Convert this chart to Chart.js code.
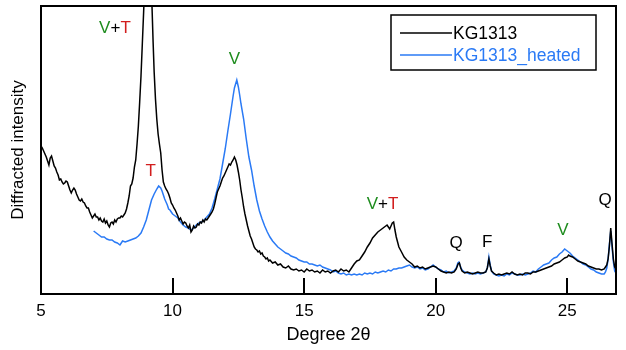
<!DOCTYPE html>
<html>
<head>
<meta charset="utf-8">
<script src="https://cdn.jsdelivr.net/npm/chart.js@4"></script>
<style>
  html, body { margin: 0; padding: 0; background: #fff; }
  #wrap { width: 626px; height: 350px; }
</style>
</head>
<body>
<div id="wrap"><canvas id="chart" width="626" height="350"></canvas></div>
<script>
/* ─── DATA ───────────────────────────────────────────── */
const xTicks = [5, 10, 15, 20, 25];

const degKG = [
  5.00, 5.05, 5.10, 5.15, 5.20, 5.25, 5.30, 5.35, 5.40, 5.45, 5.50, 5.55, 5.60, 5.65, 5.70, 5.75, 5.80, 5.85, 5.90, 5.95,
  6.00, 6.05, 6.10, 6.15, 6.20, 6.25, 6.30, 6.35, 6.40, 6.45, 6.50, 6.55, 6.60, 6.65, 6.70, 6.75, 6.80, 6.85, 6.90, 6.95,
  7.00, 7.05, 7.10, 7.15, 7.20, 7.25, 7.30, 7.35, 7.40, 7.45, 7.50, 7.55, 7.60, 7.65, 7.70, 7.75, 7.80, 7.85, 7.90, 7.95,
  8.00, 8.05, 8.10, 8.15, 8.20, 8.25, 8.30, 8.35, 8.40, 8.45, 8.50, 8.55, 8.60, 8.65, 8.70, 8.75, 8.80, 8.85, 8.90, 8.95,
  9.00, 9.06, 9.12, 9.18, 9.22, 9.26, 9.30, 9.35, 9.40, 9.45, 9.50, 9.55, 9.60, 9.65, 9.70, 9.75, 9.80, 9.85, 9.90, 9.95,
  10.00, 10.05, 10.10, 10.15, 10.20, 10.25, 10.30, 10.35, 10.40, 10.45, 10.50, 10.55, 10.60, 10.65, 10.70, 10.75, 10.80, 10.85, 10.90, 10.95,
  11.00, 11.05, 11.10, 11.15, 11.20, 11.25, 11.30, 11.35, 11.40, 11.45, 11.50, 11.55, 11.60, 11.65, 11.70, 11.75, 11.80, 11.85, 11.90, 11.95,
  12.00, 12.05, 12.10, 12.15, 12.20, 12.25, 12.30, 12.35, 12.40, 12.45, 12.50, 12.55, 12.60, 12.65, 12.70, 12.75, 12.80, 12.85, 12.90, 12.95,
  13.00, 13.05, 13.10, 13.15, 13.20, 13.25, 13.30, 13.35, 13.40, 13.45, 13.50, 13.55, 13.60, 13.65, 13.70, 13.80, 13.90, 14.00, 14.10, 14.20,
  14.30, 14.40, 14.50, 14.60, 14.70, 14.80, 14.90, 15.00, 15.10, 15.20, 15.30, 15.40, 15.50, 15.60, 15.70, 15.80, 15.90, 16.00, 16.10, 16.20,
  16.30, 16.40, 16.50, 16.60, 16.70, 16.80, 16.90, 17.00, 17.10, 17.20, 17.30, 17.40, 17.50, 17.60, 17.70, 17.80, 17.90, 18.00, 18.10, 18.15,
  18.20, 18.25, 18.30, 18.35, 18.40, 18.45, 18.50, 18.55, 18.60, 18.70, 18.80, 18.90, 19.00, 19.10, 19.20, 19.30, 19.40, 19.50, 19.60, 19.70,
  19.80, 19.90, 20.00, 20.10, 20.20, 20.30, 20.40, 20.50, 20.60, 20.70, 20.78, 20.85, 20.90, 20.95, 21.00, 21.10, 21.20, 21.30, 21.40, 21.50,
  21.60, 21.70, 21.80, 21.90, 21.96, 22.02, 22.07, 22.12, 22.20, 22.30, 22.40, 22.50, 22.60, 22.70, 22.80, 22.90, 23.00, 23.10, 23.20, 23.30,
  23.40, 23.50, 23.60, 23.70, 23.80, 23.90, 24.00, 24.10, 24.20, 24.30, 24.40, 24.50, 24.60, 24.70, 24.80, 24.90, 25.00, 25.05, 25.10, 25.20,
  25.30, 25.40, 25.50, 25.60, 25.70, 25.80, 25.90, 26.00, 26.10, 26.20, 26.30, 26.40, 26.45, 26.50, 26.55, 26.60, 26.65, 26.70, 26.75, 26.80,
  26.85
];
const intKG = [
  148, 146, 143, 140, 137, 133, 129, 136, 138, 133, 128, 126, 122, 119, 114, 115, 112, 110, 111, 113,
  112, 108, 104, 101, 104, 106, 104, 100, 97, 94, 93, 95, 92, 91, 88, 86, 86, 82, 79, 76,
  78, 80, 77, 77, 74, 76, 73, 72, 75, 71, 73, 69, 67, 71, 72, 70, 74, 72, 75, 76,
  76, 78, 77, 79, 81, 85, 91, 98, 108, 110, 116, 127, 134, 150, 168, 192, 218, 250, 282, 315,
  350, 372, 355, 315, 286, 252, 222, 195, 175, 160, 150, 141, 124, 112, 108, 105, 103, 100, 96, 91,
  89, 86, 84, 81, 78, 74, 76, 73, 70, 72, 71, 68, 66, 69, 62, 64, 68, 66, 67, 70,
  69, 72, 71, 74, 72, 75, 74, 76, 78, 80, 82, 85, 90, 96, 102, 105, 108, 112, 116, 118,
  121, 124, 127, 130, 129, 132, 134, 137, 134, 129, 122, 114, 104, 96, 87, 80, 74, 68, 63, 58,
  55, 51, 47, 45, 44, 42, 43, 40, 41, 38, 37, 35, 36, 33, 34, 31, 32, 29, 30, 27,
  26, 28, 25, 24, 25, 23, 24, 22, 25, 23, 24, 22, 23, 21, 24, 22, 23, 21, 23, 24,
  22, 25, 23, 24, 22, 26, 30, 33, 34, 38, 42, 47, 51, 56, 59, 62, 64, 66, 68, 69,
  67, 65, 68, 71, 72, 64, 57, 52, 47, 42, 37, 34, 32, 30, 27, 28, 26, 27, 25, 26,
  27, 28, 27, 25, 23, 22, 21, 22, 21, 22, 25, 30, 31, 26, 23, 21, 22, 21, 20, 21,
  22, 21, 21, 22, 26, 35, 28, 23, 21, 19, 20, 19, 20, 21, 20, 22, 20, 19, 20, 19,
  21, 21, 20, 22, 22, 23, 24, 25, 26, 27, 28, 30, 31, 32, 34, 36, 37, 39, 38, 37,
  35, 33, 32, 31, 30, 28, 27, 26, 25, 25, 24, 25, 27, 29, 35, 48, 66, 50, 35, 27,
  25
];

const degHeated = [
  7.00, 7.10, 7.20, 7.30, 7.40, 7.50, 7.60, 7.70, 7.80, 7.90, 8.00, 8.05, 8.10, 8.20, 8.30, 8.40, 8.50, 8.60, 8.70, 8.80,
  8.90, 9.00, 9.10, 9.20, 9.30, 9.40, 9.47, 9.55, 9.60, 9.65, 9.70, 9.75, 9.80, 9.85, 9.90, 9.95, 10.00, 10.10, 10.20, 10.30,
  10.40, 10.50, 10.60, 10.70, 10.80, 10.90, 11.00, 11.10, 11.20, 11.30, 11.40, 11.50, 11.60, 11.70, 11.80, 11.90, 12.00, 12.10, 12.20, 12.30,
  12.35, 12.44, 12.50, 12.55, 12.60, 12.70, 12.80, 12.90, 13.00, 13.10, 13.20, 13.30, 13.40, 13.50, 13.60, 13.70, 13.80, 13.90, 14.00, 14.10,
  14.20, 14.30, 14.40, 14.50, 14.60, 14.70, 14.80, 14.90, 15.00, 15.10, 15.20, 15.30, 15.40, 15.50, 15.60, 15.70, 15.80, 15.90, 16.00, 16.10,
  16.20, 16.30, 16.40, 16.50, 16.60, 16.70, 16.80, 16.90, 17.00, 17.10, 17.20, 17.30, 17.40, 17.50, 17.60, 17.70, 17.80, 17.90, 18.00, 18.10,
  18.20, 18.30, 18.40, 18.50, 18.60, 18.70, 18.80, 18.90, 19.00, 19.10, 19.20, 19.30, 19.40, 19.50, 19.60, 19.70, 19.80, 19.90, 20.00, 20.10,
  20.20, 20.30, 20.40, 20.50, 20.60, 20.70, 20.78, 20.84, 20.88, 20.93, 21.00, 21.10, 21.20, 21.30, 21.40, 21.50, 21.60, 21.70, 21.80, 21.90,
  21.96, 22.02, 22.07, 22.12, 22.20, 22.30, 22.40, 22.50, 22.60, 22.70, 22.80, 22.90, 23.00, 23.10, 23.20, 23.30, 23.40, 23.50, 23.60, 23.70,
  23.80, 23.90, 24.00, 24.10, 24.20, 24.30, 24.40, 24.50, 24.60, 24.70, 24.80, 24.90, 24.95, 25.00, 25.05, 25.10, 25.20, 25.30, 25.40, 25.50,
  25.60, 25.70, 25.80, 25.90, 26.00, 26.10, 26.20, 26.30, 26.40, 26.45, 26.50, 26.55, 26.60, 26.65, 26.70, 26.75, 26.80, 26.85
];
const intHeated = [
  63, 61, 59, 57, 57, 55, 54, 54, 52, 51, 49, 51, 53, 52, 53, 54, 55, 56, 58, 61,
  67, 74, 84, 94, 100, 105, 108, 106, 103, 99, 95, 92, 89, 85, 84, 82, 80, 78, 76, 72,
  69, 67, 66, 64, 66, 69, 71, 72, 74, 77, 80, 86, 95, 105, 115, 130, 145, 163, 180, 198,
  206, 214, 207, 199, 190, 175, 155, 137, 124, 108, 94, 83, 75, 68, 62, 57, 53, 50, 47, 45,
  43, 41, 40, 38, 37, 36, 34, 33, 32, 32, 30, 30, 29, 28, 29, 27, 26, 25, 24, 22,
  23, 21, 20, 21, 19, 20, 19, 20, 19, 20, 19, 21, 20, 21, 20, 22, 21, 22, 23, 22,
  24, 23, 25, 25, 26, 26, 27, 28, 29, 27, 26, 27, 25, 26, 24, 25, 27, 29, 27, 25,
  24, 22, 23, 21, 22, 23, 26, 31, 32, 28, 24, 22, 21, 20, 21, 20, 21, 20, 21, 22,
  26, 37, 29, 23, 20, 19, 18, 19, 18, 20, 19, 21, 20, 19, 19, 20, 19, 20, 21, 23,
  22, 25, 27, 29, 30, 31, 34, 36, 37, 40, 42, 45, 44, 43, 42, 41, 38, 36, 34, 32,
  30, 29, 27, 25, 24, 22, 21, 20, 20, 22, 26, 35, 50, 63, 47, 32, 23, 21
];

// peak labels: text pieces with their colours, placed at (degree, intensity)
const peakLabels = [
  { parts: ["V", "+", "T"], colors: ["#1e8c1e", "#000", "#d21e1e"], x: 7.81, y: 266 },
  { parts: ["T"], colors: ["#d21e1e"], x: 9.17, y: 123 },
  { parts: ["V"], colors: ["#1e8c1e"], x: 12.35, y: 235 },
  { parts: ["V", "+", "T"], colors: ["#1e8c1e", "#000", "#d21e1e"], x: 17.98, y: 90 },
  { parts: ["Q"], colors: ["#000"], x: 20.77, y: 51 },
  { parts: ["F"], colors: ["#000"], x: 21.96, y: 52 },
  { parts: ["V"], colors: ["#1e8c1e"], x: 24.83, y: 64 },
  { parts: ["Q"], colors: ["#000"], x: 26.44, y: 94 }
];

const BLUE = "#2a7af5";
const FONT = "'Liberation Sans', Arial, sans-serif";

/* ─── PLUGINS ────────────────────────────────────────── */
const framePlugin = {
  id: "frame",
  afterDraw(chart) {
    const { ctx, chartArea: a, scales } = chart;
    ctx.save();
    ctx.strokeStyle = "#000";
    ctx.lineWidth = 2;
    ctx.strokeRect(a.left, a.top, a.right - a.left, a.bottom - a.top);
    // inward ticks on the bottom axis
    scales.x.ticks.forEach(t => {
      const px = Math.round(scales.x.getPixelForValue(t.value));
      if (px <= a.left + 1) return;
      ctx.beginPath();
      ctx.moveTo(px, a.bottom);
      ctx.lineTo(px, a.bottom - 16);
      ctx.stroke();
    });
    ctx.restore();
  }
};

const labelPlugin = {
  id: "peakLabels",
  afterDatasetsDraw(chart) {
    const { ctx, scales } = chart;
    ctx.save();
    ctx.font = "17px " + FONT;
    ctx.textBaseline = "middle";
    ctx.textAlign = "left";
    peakLabels.forEach(l => {
      const total = l.parts.reduce((s, p) => s + ctx.measureText(p).width, 0);
      let px = scales.x.getPixelForValue(l.x) - total / 2;
      const py = scales.y.getPixelForValue(l.y);
      l.parts.forEach((p, i) => {
        ctx.fillStyle = l.colors[i];
        ctx.fillText(p, px, py);
        px += ctx.measureText(p).width;
      });
    });
    ctx.restore();
  }
};

const legendPlugin = {
  id: "boxLegend",
  afterDraw(chart) {
    const { ctx } = chart;
    const x0 = 391, y0 = 15, w = 205, h = 55;
    ctx.save();
    ctx.fillStyle = "#fff";
    ctx.fillRect(x0, y0, w, h);
    ctx.strokeStyle = "#000";
    ctx.lineWidth = 1.5;
    ctx.strokeRect(x0, y0, w, h);
    ctx.font = "17.5px " + FONT;
    ctx.textBaseline = "middle";
    chart.data.datasets.forEach((ds, i) => {
      const y = y0 + 18 + i * 22;
      ctx.strokeStyle = ds.borderColor;
      ctx.lineWidth = 1.5;
      ctx.beginPath();
      ctx.moveTo(x0 + 9, y);
      ctx.lineTo(x0 + 61, y);
      ctx.stroke();
      ctx.fillStyle = ds.borderColor;
      ctx.fillText(ds.label, x0 + 62, y + 1);
    });
    ctx.restore();
  }
};

/* ─── CHART ──────────────────────────────────────────── */
const toPoints = (xs, ys) => xs.map((x, i) => ({ x, y: ys[i] }));

new Chart(document.getElementById("chart"), {
  type: "line",
  data: {
    datasets: [
      {
        label: "KG1313",
        data: toPoints(degKG, intKG),
        borderColor: "#000",
        borderWidth: 1.5,
        pointRadius: 0,
        tension: 0
      },
      {
        label: "KG1313_heated",
        data: toPoints(degHeated, intHeated),
        borderColor: BLUE,
        borderWidth: 1.5,
        pointRadius: 0,
        tension: 0
      }
    ]
  },
  options: {
    responsive: false,
    animation: false,
    events: [],
    layout: { padding: { top: 6, right: 10, left: 0, bottom: 0 } },
    plugins: {
      legend: { display: false },
      tooltip: { enabled: false }
    },
    scales: {
      x: {
        type: "linear",
        min: 5,
        max: 26.85,
        afterBuildTicks: s => { s.ticks = xTicks.map(v => ({ value: v })); },
        afterFit: s => { s.height = 56; },
        grid: { display: false },
        border: { display: false },
        ticks: { color: "#000", font: { family: FONT, size: 17 }, padding: -1, maxRotation: 0 },
        title: { display: true, text: "Degree 2θ", color: "#000", font: { family: FONT, size: 18 }, padding: { top: 8 } }
      },
      y: {
        min: 0,
        max: 288,
        afterFit: s => { s.width = 41; },
        grid: { display: false },
        border: { display: false },
        ticks: { display: false },
        title: { display: true, text: "Diffracted intensity", color: "#000", font: { family: FONT, size: 17 }, padding: { top: 8, bottom: 0 } }
      }
    }
  },
  plugins: [labelPlugin, framePlugin, legendPlugin]
});
</script>
</body>
</html>
